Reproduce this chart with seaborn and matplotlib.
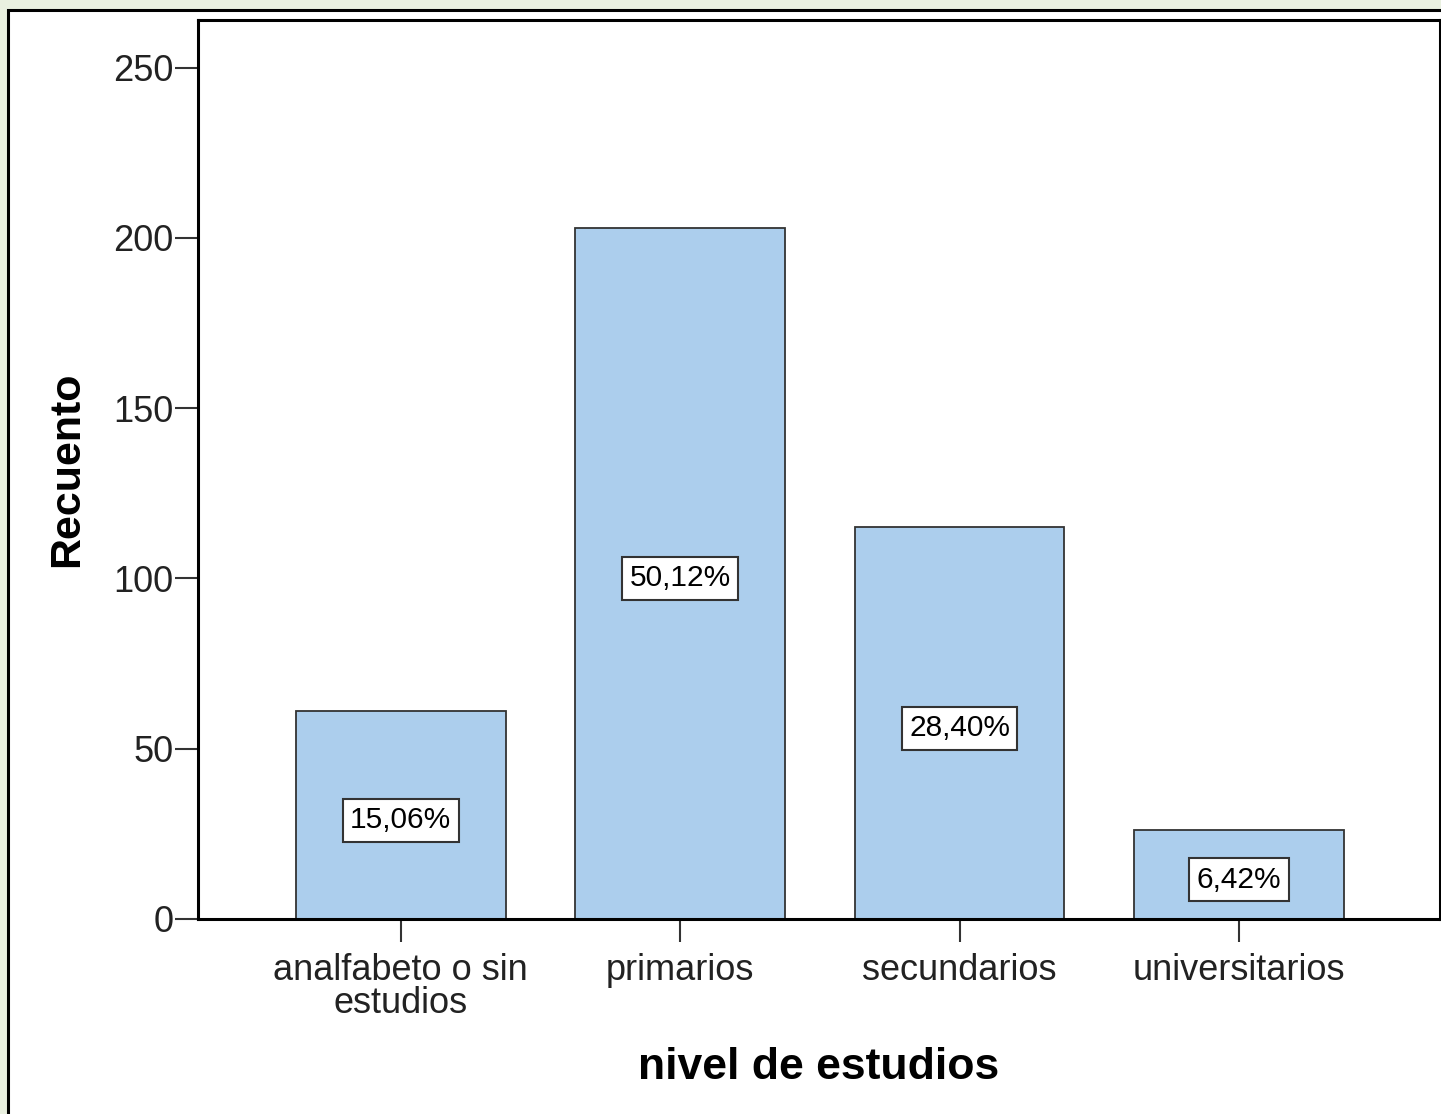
import matplotlib
matplotlib.use("Agg")
import matplotlib.pyplot as plt
import seaborn as sns
import pandas as pd
from matplotlib.patches import Rectangle

categorias = ["analfabeto o sin\nestudios", "primarios", "secundarios", "universitarios"]
recuento = [61, 203, 115, 26]
porcentajes = ["15,06%", "50,12%", "28,40%", "6,42%"]
yticks = [0, 50, 100, 150, 200, 250]

df = pd.DataFrame({"nivel": categorias, "n": recuento})

sns.set_style("white")
plt.rcParams["font.family"] = ["Liberation Sans", "DejaVu Sans"]

fig = plt.figure(figsize=(14.41, 11.14), dpi=100)
fig.patch.set_facecolor("#e9f0e0")
# white panel behind the chart
fig.patches.append(Rectangle((8 / 1441, -0.01), 1.0, 1 - 10 / 1114 + 0.01,
                             transform=fig.transFigure, facecolor="white",
                             edgecolor="black", linewidth=2.2, zorder=-10))

ax = fig.add_axes([198 / 1441, 1 - 919 / 1114, 1242 / 1441, 899 / 1114])
sns.barplot(data=df, x="nivel", y="n", color="#acceed", saturation=1,
            width=0.75, edgecolor="#333333", linewidth=1.3, ax=ax)

ax.set_ylim(0, 264)
ax.set_xlim(-0.726, 3.72)
ax.set_yticks(yticks)
ax.set_yticklabels([str(v) for v in yticks])

for i, (n, p) in enumerate(zip(recuento, porcentajes)):
    ax.text(i, n / 2 - 1.5, p, ha="center", va="center", fontsize=21.5, color="black",
            bbox=dict(boxstyle="square,pad=0.25", facecolor="white",
                      edgecolor="#333333", linewidth=1.5))

for side in ["left", "bottom", "top", "right"]:
    ax.spines[side].set_color("black")
    ax.spines[side].set_linewidth(2.2)

ax.tick_params(axis="both", bottom=True, left=True, length=16.5, width=1.5,
               color="#333333", labelsize=26, labelcolor="#222222", direction="out")
ax.tick_params(axis="x", pad=8)
ax.tick_params(axis="y", pad=1)
for lab in ax.get_xticklabels():
    lab.set_linespacing(0.92)

ax.set_xlabel("nivel de estudios", fontsize=32, fontweight="bold", color="black")
ax.set_ylabel("Recuento", fontsize=31, fontweight="bold", color="black")
ax.xaxis.set_label_coords(0.5, -0.1657)
ax.xaxis.label.set_va("center")
ax.yaxis.set_label_coords(-0.1055, 0.5)
ax.yaxis.label.set_va("center")

fig.savefig("out.png", dpi=100, facecolor=fig.get_facecolor())
